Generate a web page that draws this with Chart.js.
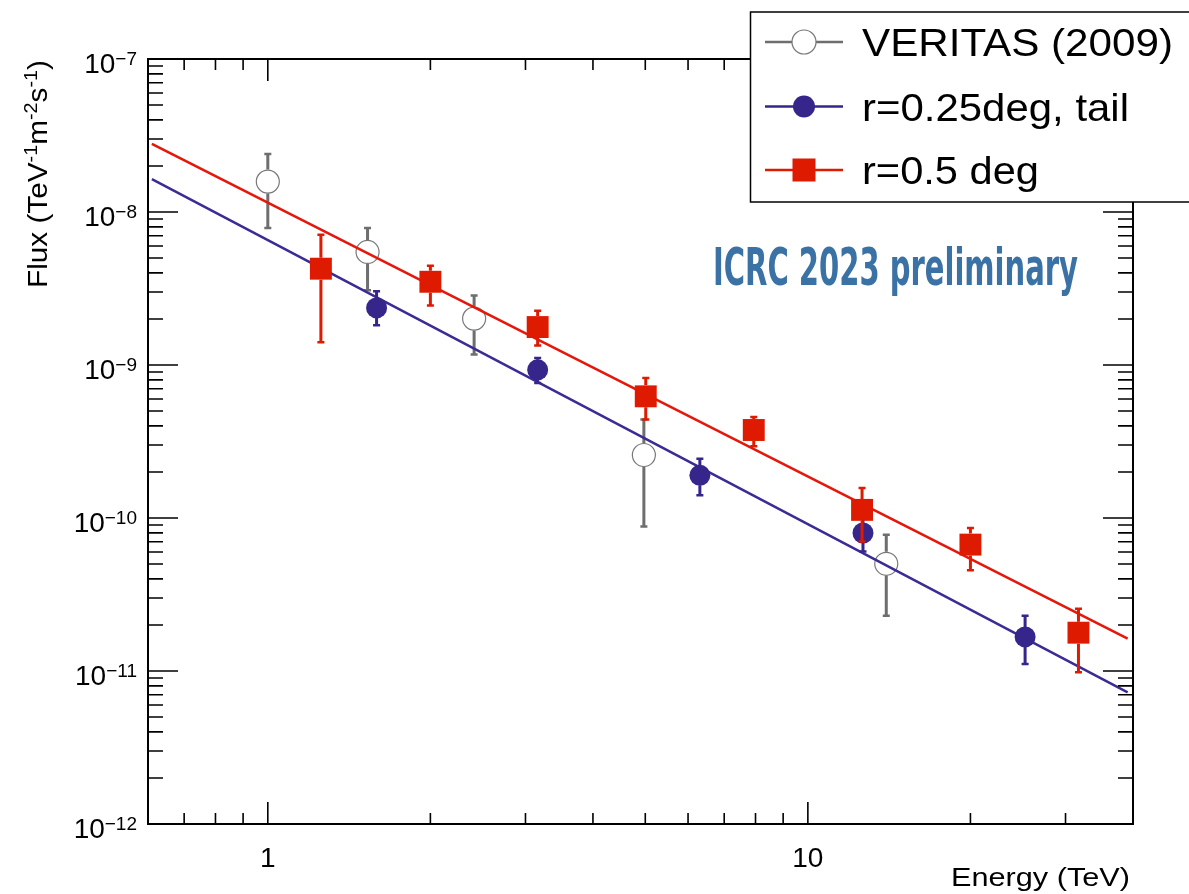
<!DOCTYPE html>
<html>
<head>
<meta charset="utf-8">
<script src="https://cdn.jsdelivr.net/npm/chart.js@4/dist/chart.umd.min.js"></script>
<style>
  body { margin: 0; background: #fff; }
  canvas { display: block; }
</style>
</head>
<body>
<canvas id="grafica" width="1189" height="894"></canvas>
<script>
// Datos
const veritasE = [1.0, 1.53, 2.41, 4.97, 13.97];
const veritasF = [1.58e-8, 5.48e-9, 2.01e-9, 2.58e-10, 5.02e-11];
const veritasHi = [2.39e-8, 7.85e-9, 2.85e-9, 4.40e-10, 7.78e-11];
const veritasLo = [7.85e-9, 3.08e-9, 1.17e-9, 8.81e-11, 2.30e-11];

const tailE = [1.59, 3.16, 6.31, 12.65, 25.25];
const tailF = [2.36e-9, 9.3e-10, 1.90e-10, 7.98e-11, 1.67e-11];
const tailHi = [3.03e-9, 1.11e-9, 2.44e-10, 1.0e-10, 2.30e-11];
const tailLo = [1.82e-9, 7.62e-10, 1.41e-10, 6.05e-11, 1.11e-11];

const halfE = [1.254, 2.0, 3.16, 5.01, 7.94, 12.6, 20.0, 31.7];
const halfF = [4.26e-9, 3.50e-9, 1.77e-9, 6.24e-10, 3.76e-10, 1.13e-10, 6.70e-11, 1.78e-11];
const halfHi = [7.11e-9, 4.45e-9, 2.26e-9, 8.22e-10, 4.57e-10, 1.57e-10, 8.6e-11, 2.55e-11];
const halfLo = [1.41e-9, 2.45e-9, 1.34e-9, 4.40e-10, 2.94e-10, 7.03e-11, 4.55e-11, 9.8e-12];

// extremos de las rectas de ajuste
const fitE = [0.61, 39.1];
const tailFit = [1.64e-8, 7.24e-12];
const halfFit = [2.79e-8, 1.63e-11];

const xTicksMajor = [1, 10];
const xTicksMinor = [0.7, 0.8, 0.9, 2, 3, 4, 5, 6, 7, 8, 9, 20, 30];
const yDecades = [-12, -11, -10, -9, -8, -7];

const GRIS = "#6e6e6e";
const AZUL = "#36268c";
const ROJO = "#de1a00";
const FUENTE = '"Liberation Sans", Arial, sans-serif';

function puntos(xs, ys) {
  return xs.map((x, i) => ({ x: x, y: ys[i] }));
}

// Barras de error verticales, con hueco en el marcador
const barrasError = {
  id: "barrasError",
  beforeDatasetDraw(chart, args) {
    const ds = chart.data.datasets[args.index];
    if (!ds.errHi) return;
    const ctx = chart.ctx;
    const sx = chart.scales.x;
    const sy = chart.scales.y;
    const gap = ds.errGap || 0;
    ctx.save();
    ctx.strokeStyle = ds.errColor;
    ctx.lineWidth = 3;
    ds.data.forEach((p, i) => {
      const px = sx.getPixelForValue(p.x);
      const py = sy.getPixelForValue(p.y);
      const top = sy.getPixelForValue(ds.errHi[i]);
      const bot = sy.getPixelForValue(ds.errLo[i]);
      ctx.beginPath();
      if (py - gap > top) {
        ctx.moveTo(px, py - gap);
        ctx.lineTo(px, top);
      }
      if (py + gap < bot) {
        ctx.moveTo(px, py + gap);
        ctx.lineTo(px, bot);
      }
      ctx.stroke();
      ctx.lineWidth = 2.5;
      ctx.beginPath();
      ctx.moveTo(px - 3.5, top);
      ctx.lineTo(px + 3.5, top);
      ctx.moveTo(px - 3.5, bot);
      ctx.lineTo(px + 3.5, bot);
      ctx.stroke();
      ctx.lineWidth = 3;
    });
    ctx.restore();
  },
};

function textoAncho(ctx, txt, x, y, ancho) {
  // escala horizontal para igualar el ancho medido
  const w = ctx.measureText(txt).width;
  ctx.save();
  ctx.translate(x, y);
  ctx.scale(ancho / w, 1);
  ctx.fillText(txt, 0, 0);
  ctx.restore();
}

// Marco estilo ROOT, marcas hacia dentro y etiquetas
const marco = {
  id: "marco",
  afterDraw(chart) {
    const ctx = chart.ctx;
    const a = chart.chartArea;
    const sx = chart.scales.x;
    const sy = chart.scales.y;
    ctx.save();
    ctx.strokeStyle = "#000";
    ctx.lineWidth = 2;
    ctx.strokeRect(a.left, a.top, a.right - a.left, a.bottom - a.top);

    ctx.lineWidth = 1.6;
    ctx.beginPath();
    yDecades.forEach((d) => {
      const py = sy.getPixelForValue(Math.pow(10, d));
      ctx.moveTo(a.left, py);
      ctx.lineTo(a.left + 30, py);
      ctx.moveTo(a.right, py);
      ctx.lineTo(a.right - 30, py);
      if (d < -7) {
        for (let k = 2; k <= 9; k++) {
          const pm = sy.getPixelForValue(k * Math.pow(10, d));
          ctx.moveTo(a.left, pm);
          ctx.lineTo(a.left + 15, pm);
          ctx.moveTo(a.right, pm);
          ctx.lineTo(a.right - 15, pm);
        }
      }
    });
    xTicksMajor.forEach((v) => {
      const px = sx.getPixelForValue(v);
      ctx.moveTo(px, a.bottom);
      ctx.lineTo(px, a.bottom - 22);
      ctx.moveTo(px, a.top);
      ctx.lineTo(px, a.top + 22);
    });
    xTicksMinor.forEach((v) => {
      const px = sx.getPixelForValue(v);
      ctx.moveTo(px, a.bottom);
      ctx.lineTo(px, a.bottom - 11);
      ctx.moveTo(px, a.top);
      ctx.lineTo(px, a.top + 11);
    });
    ctx.stroke();

    // etiquetas eje y: 10 con exponente
    ctx.fillStyle = "#000";
    ctx.textAlign = "left";
    ctx.textBaseline = "alphabetic";
    yDecades.forEach((d) => {
      const py = sy.getPixelForValue(Math.pow(10, d));
      const exp = "\u2212" + Math.abs(d);
      ctx.font = "19px " + FUENTE;
      const we = ctx.measureText(exp).width;
      ctx.font = "28px " + FUENTE;
      const wm = ctx.measureText("10").width;
      const x0 = 137 - we - wm;
      ctx.fillText("10", x0, py + 14);
      ctx.font = "19px " + FUENTE;
      ctx.fillText(exp, x0 + wm, py + 6);
    });

    // etiquetas eje x
    ctx.font = "28px " + FUENTE;
    ctx.textAlign = "center";
    xTicksMajor.forEach((v) => {
      ctx.fillText(String(v), sx.getPixelForValue(v), 867);
    });

    // titulo eje x
    ctx.textAlign = "left";
    ctx.font = "25px " + FUENTE;
    textoAncho(ctx, "Energy (TeV)", 951, 886, 179);

    // titulo eje y (girado)
    const partes = [
      ["Flux (TeV", false],
      ["-1", true],
      ["m", false],
      ["-2", true],
      ["s", false],
      ["-1", true],
      [")", false],
    ];
    let W = 0;
    partes.forEach((p) => {
      ctx.font = (p[1] ? "18px " : "27px ") + FUENTE;
      W += ctx.measureText(p[0]).width;
    });
    const esc = 228 / W;
    ctx.save();
    ctx.translate(47, 60 + 228);
    ctx.rotate(-Math.PI / 2);
    ctx.scale(esc, 1);
    let cx = 0;
    partes.forEach((p) => {
      ctx.font = (p[1] ? "18px " : "27px ") + FUENTE;
      ctx.fillText(p[0], cx, p[1] ? -10 : 0);
      cx += ctx.measureText(p[0]).width;
    });
    ctx.restore();

    // texto ICRC
    ctx.fillStyle = "#3b72a6";
    ctx.font = 'bold 51px "Liberation Sans Narrow", "DejaVu Sans Condensed", ' + FUENTE;
    textoAncho(ctx, "ICRC 2023 preliminary", 713, 285, 365);

    // leyenda
    ctx.fillStyle = "#fff";
    ctx.fillRect(750, 12, 445, 190);
    ctx.strokeStyle = "#000";
    ctx.lineWidth = 1.5;
    ctx.strokeRect(750.5, 12, 445, 190);

    const items = [
      { txt: "VERITAS (2009)", y: 42, color: GRIS, tipo: "abierto", ancho: 311 },
      { txt: "r=0.25deg, tail", y: 106.5, color: AZUL, tipo: "circulo", ancho: 267 },
      { txt: "r=0.5 deg", y: 170, color: ROJO, tipo: "cuadrado", ancho: 177 },
    ];
    items.forEach((it) => {
      ctx.strokeStyle = it.color;
      ctx.lineWidth = 2.5;
      ctx.beginPath();
      ctx.moveTo(765, it.y);
      ctx.lineTo(843, it.y);
      ctx.stroke();
      if (it.tipo === "abierto") {
        ctx.fillStyle = "#fff";
        ctx.beginPath();
        ctx.arc(804, it.y, 12, 0, Math.PI * 2);
        ctx.fill();
        ctx.lineWidth = 1.2;
        ctx.strokeStyle = "#777";
        ctx.stroke();
      } else if (it.tipo === "circulo") {
        ctx.fillStyle = it.color;
        ctx.beginPath();
        ctx.arc(804, it.y, 11, 0, Math.PI * 2);
        ctx.fill();
      } else {
        ctx.fillStyle = it.color;
        ctx.fillRect(804 - 11.5, it.y - 11.5, 23, 23);
      }
      ctx.fillStyle = "#000";
      ctx.font = "39px " + FUENTE;
      textoAncho(ctx, it.txt, 862, it.y + 14, it.ancho);
    });
    ctx.restore();
  },
};

const grafica = new Chart(document.getElementById("grafica"), {
  type: "line",
  data: {
    datasets: [
      {
        label: "r=0.5 deg",
        data: puntos(halfE, halfF),
        showLine: false,
        pointStyle: "rect",
        pointRadius: 15.5,
        pointBackgroundColor: ROJO,
        pointBorderColor: ROJO,
        pointBorderWidth: 0,
        errHi: halfHi,
        errLo: halfLo,
        errColor: ROJO,
        errGap: 11,
        order: 0,
      },
      {
        label: "ajuste 0.5",
        data: puntos(fitE, halfFit),
        borderColor: "#e5170a",
        borderWidth: 2.5,
        pointRadius: 0,
        order: 1,
      },
      {
        label: "r=0.25deg, tail",
        data: puntos(tailE, tailF),
        showLine: false,
        pointStyle: "circle",
        pointRadius: 10.5,
        pointBackgroundColor: AZUL,
        pointBorderColor: AZUL,
        pointBorderWidth: 0,
        errHi: tailHi,
        errLo: tailLo,
        errColor: AZUL,
        errGap: 10,
        order: 2,
      },
      {
        label: "ajuste 0.25",
        data: puntos(fitE, tailFit),
        borderColor: "#3a2c94",
        borderWidth: 2.5,
        pointRadius: 0,
        order: 3,
      },
      {
        label: "VERITAS (2009)",
        data: puntos(veritasE, veritasF),
        showLine: false,
        pointStyle: "circle",
        pointRadius: 11.5,
        pointBackgroundColor: "rgba(255,255,255,0)",
        pointBorderColor: "#777",
        pointBorderWidth: 1.2,
        errHi: veritasHi,
        errLo: veritasLo,
        errColor: GRIS,
        errGap: 12,
        order: 4,
      },
    ],
  },
  options: {
    responsive: false,
    animation: false,
    layout: { padding: { left: 148, right: 56, top: 59, bottom: 70 } },
    elements: { line: { tension: 0 } },
    scales: {
      x: { type: "logarithmic", min: 0.6, max: 40, display: false },
      y: { type: "logarithmic", min: 1e-12, max: 1e-7, display: false },
    },
    plugins: {
      legend: { display: false },
      tooltip: { enabled: false },
    },
  },
  plugins: [barrasError, marco],
});
</script>
</body>
</html>
